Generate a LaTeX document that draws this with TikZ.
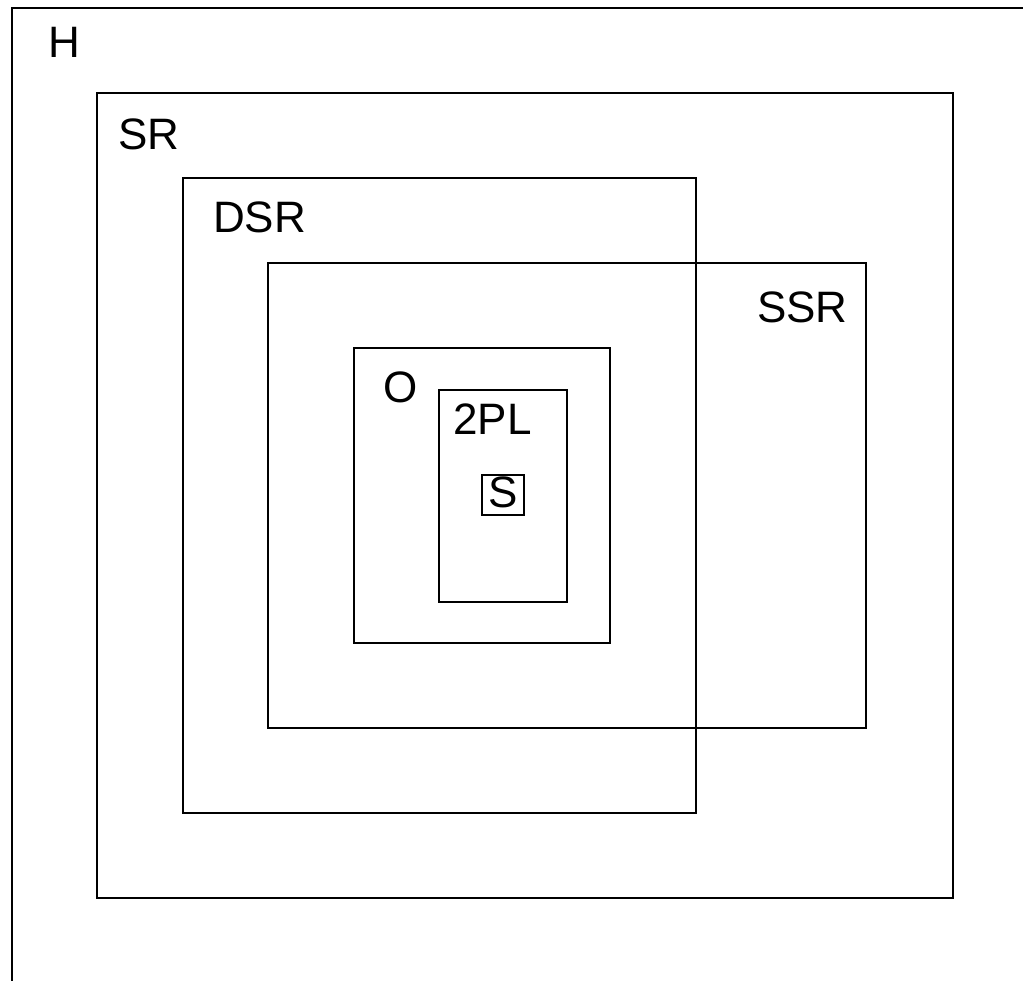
\documentclass[tikz,border=0pt]{standalone}
\usepackage{fontspec}
\setmainfont{Liberation Sans}
\begin{document}
\begin{tikzpicture}[x=1pt,y=-1pt,
  setbox/.style={draw=black,line width=2pt},
  setlabel/.style={anchor=base west,inner sep=0pt,font=\fontsize{44}{50}\selectfont}]
\useasboundingbox (0,0) rectangle (1023,981);
\clip (0,0) rectangle (1023,981);
% H (extends beyond the picture)
\draw[setbox] (12,1000) -- (12,8) -- (1040,8);
\node[setlabel] (hl) at (48,58) {H};
% SR
\draw[setbox] (97,93) rectangle (953,898);
\node[setlabel] (srl) at (118,150) {SR};
% DSR
\draw[setbox] (183,178) rectangle (696,813);
\node[setlabel] (dsrl) at (213,233) {DSR};
% SSR
\draw[setbox] (268,263) rectangle (866,728);
\node[setlabel] (ssrl) at (757,323) {SSR};
% O
\draw[setbox] (354,348) rectangle (610,643);
\node[setlabel] (ol) at (383,403) {O};
% 2PL
\draw[setbox] (439,390) rectangle (567,602);
\node[setlabel] (tpl) at (453,435) {2PL};
% S
\draw[setbox] (482,475) rectangle (524,515);
\node[setlabel] (sl) at (488,507) {S};
\end{tikzpicture}
\end{document}
